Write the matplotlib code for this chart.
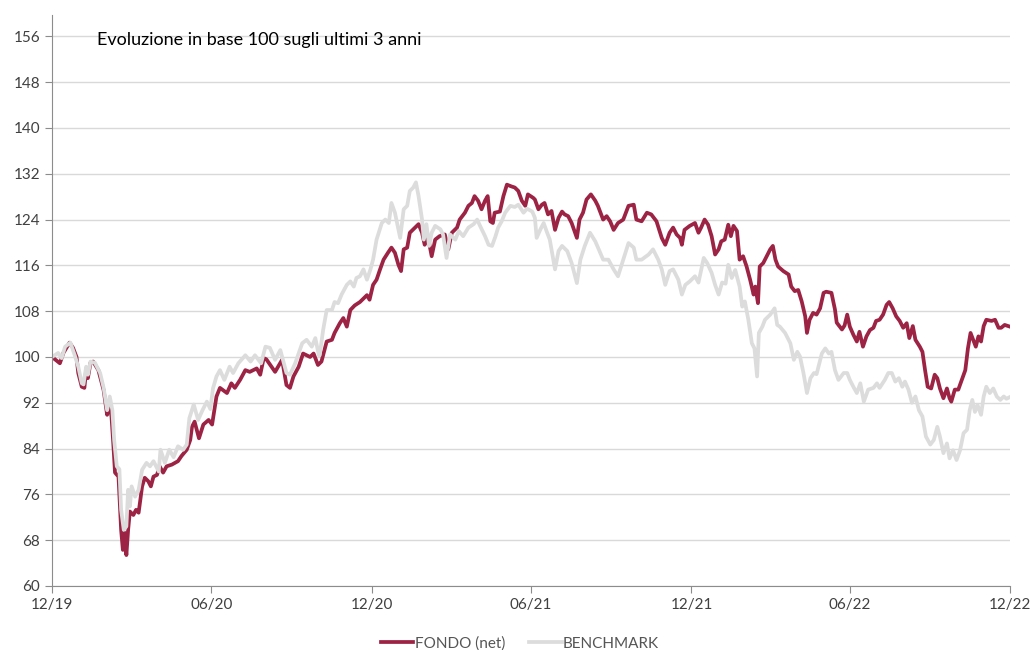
import numpy as np
import pandas as pd
import matplotlib
matplotlib.use('Agg')
import matplotlib.pyplot as plt
import matplotlib.dates as mdates

START = pd.Timestamp('2019-12-31')
END = pd.Timestamp('2022-12-30')

# FONDO (net) - days since 31/12/2019, value (base 100)
fondo_days = [0, 9, 13, 20, 24, 28, 30, 34, 37, 39, 41, 44, 47, 53, 59, 63, 65, 68, 70, 72,
              76, 79, 81, 83, 85, 87, 89, 93, 96, 99, 103, 106, 110, 113, 116, 120, 123, 127,
              131, 137, 144, 148, 154, 158, 160, 163, 168, 173, 179, 183, 188, 192, 200, 205,
              209, 215, 221, 226, 234, 238, 242, 245, 251, 255, 263, 268, 272, 276, 282, 287,
              295, 299, 304, 308, 314, 320, 323, 329, 333, 337, 341, 346, 352, 356, 360, 363,
              367, 371, 375, 379, 384, 388, 392, 396, 399, 402, 406, 409, 415, 419, 423, 426,
              430, 434, 438, 443, 449, 453, 457, 463, 466, 472, 476, 480, 483, 487, 491, 495,
              498, 501, 504, 506, 512, 516, 520, 525, 529, 533, 537, 541, 544, 550, 552, 556,
              560, 563, 567, 571, 575, 579, 583, 586, 590, 594, 600, 603, 607, 611, 616, 621,
              624, 630, 634, 638, 642, 647, 653, 659, 665, 668, 674, 680, 685, 691, 697, 701,
              706, 710, 714, 718, 720, 723, 729, 735, 739, 742, 746, 750, 754, 758, 762, 765,
              769, 773, 776, 779, 783, 786, 790, 794, 798, 802, 804, 807, 809, 813, 817, 821,
              824, 827, 830, 836, 842, 845, 849, 853, 857, 861, 863, 866, 870, 874, 878, 882,
              885, 891, 895, 897, 903, 906, 909, 912, 916, 920, 923, 927, 931, 935, 939, 942,
              946, 950, 954, 957, 961, 965, 969, 973, 977, 980, 984, 987, 992, 995, 998, 1001,
              1005, 1009, 1012, 1015, 1019, 1023, 1026, 1028, 1032, 1036, 1040, 1044, 1047,
              1050, 1053, 1056, 1059, 1062, 1065, 1068, 1074, 1078, 1082, 1085, 1089, 1095]
fondo_vals = [100.0, 98.9, 100.7, 102.5, 101.6, 100.0, 97.2, 94.8, 94.6, 97.7, 96.3, 99.0, 99.2,
              97.7, 94.2, 89.9, 92.2, 89.6, 85.0, 79.8, 79.1, 69.8, 66.3, 69.3, 65.4, 69.8, 73.0,
              72.4, 73.3, 72.8, 77.4, 78.9, 78.3, 77.4, 79.1, 79.4, 80.9, 79.8, 80.9, 81.2, 81.8,
              82.7, 83.8, 85.5, 87.8, 88.7, 85.8, 88.2, 89.0, 88.2, 93.1, 94.6, 93.7, 95.4, 94.6,
              96.0, 97.7, 97.4, 98.0, 96.9, 99.8, 99.6, 98.3, 97.4, 99.5, 95.1, 94.6, 96.6, 98.3,
              100.6, 100.0, 100.6, 98.6, 99.2, 102.7, 103.0, 104.2, 105.9, 106.8, 105.3, 108.2,
              109.0, 109.6, 110.2, 110.8, 110.0, 112.6, 113.5, 115.3, 117.0, 118.2, 119.1, 118.2,
              116.1, 115.0, 118.8, 119.1, 121.7, 122.6, 123.2, 121.7, 119.6, 120.8, 117.6, 120.5,
              121.1, 121.4, 118.8, 121.7, 122.6, 124.0, 125.2, 126.4, 126.9, 128.1, 127.3, 125.8,
              127.3, 128.1, 123.7, 123.4, 125.2, 125.4, 128.1, 130.1, 129.8, 129.6, 129.0, 127.3,
              126.4, 128.4, 127.8, 127.5, 125.8, 126.6, 126.9, 124.9, 125.5, 122.2, 124.3, 125.4,
              124.9, 124.6, 123.4, 120.8, 124.0, 125.2, 127.5, 128.4, 127.3, 126.4, 124.0, 124.6,
              123.7, 122.2, 123.4, 124.0, 126.4, 126.6, 124.0, 123.7, 125.2, 124.9, 123.7, 120.8,
              119.6, 121.7, 122.6, 121.4, 120.8, 119.6, 122.2, 122.9, 123.4, 121.7, 122.6, 124.0,
              123.1, 121.1, 117.9, 118.8, 120.2, 120.5, 123.1, 121.1, 122.9, 122.0, 117.0, 117.6,
              115.8, 113.5, 110.9, 112.3, 109.4, 115.8, 116.4, 117.6, 118.8, 119.4, 117.0, 115.8,
              115.0, 114.4, 112.3, 111.5, 111.7, 109.7, 107.1, 104.2, 106.5, 107.7, 107.4, 108.5,
              111.2, 111.4, 111.2, 108.3, 106.0, 104.8, 105.5, 107.4, 105.3, 103.9, 102.7, 104.4,
              101.8, 103.6, 104.7, 105.1, 106.3, 106.5, 107.4, 109.1, 109.6, 108.5, 107.1, 106.3,
              105.1, 105.9, 103.3, 105.4, 103.0, 101.8, 100.9, 97.7, 94.8, 94.5, 96.9, 96.3, 94.5,
              92.8, 94.5, 92.8, 92.2, 94.3, 94.3, 96.0, 97.7, 101.5, 104.2, 103.0, 101.8, 103.6,
              102.7, 105.4, 106.5, 106.3, 106.5, 105.1, 105.1, 105.6, 105.3]

# BENCHMARK
bench_days = [0, 7, 11, 15, 21, 26, 30, 34, 36, 39, 41, 44, 49, 55, 59, 63, 66, 69, 71, 74, 77,
              79, 82, 85, 87, 89, 91, 95, 99, 103, 108, 112, 116, 122, 124, 129, 134, 139, 144,
              150, 154, 157, 162, 167, 172, 177, 181, 184, 188, 192, 197, 203, 207, 213, 221,
              227, 232, 239, 244, 249, 255, 261, 268, 272, 278, 286, 291, 297, 301, 305, 306,
              310, 314, 320, 323, 327, 331, 337, 341, 345, 348, 352, 356, 360, 364, 367, 371,
              377, 381, 385, 388, 392, 396, 398, 402, 406, 409, 413, 416, 419, 423, 425, 428,
              431, 434, 438, 444, 447, 451, 455, 461, 465, 470, 476, 482, 486, 489, 495, 499,
              503, 507, 510, 514, 518, 524, 529, 533, 539, 543, 549, 552, 554, 558, 562, 566,
              569, 575, 579, 583, 589, 594, 600, 604, 609, 615, 621, 625, 630, 636, 642, 647,
              653, 659, 665, 668, 674, 682, 687, 693, 697, 701, 706, 710, 716, 720, 724, 729,
              735, 739, 745, 749, 754, 758, 762, 766, 770, 773, 777, 781, 786, 789, 792, 796,
              800, 803, 806, 808, 812, 815, 821, 826, 829, 832, 838, 844, 848, 852, 855, 859,
              863, 867, 871, 874, 880, 884, 888, 891, 895, 899, 905, 909, 912, 916, 920, 924,
              928, 933, 939, 943, 946, 952, 956, 960, 964, 968, 972, 975, 979, 983, 987, 991,
              995, 999, 1004, 1008, 1012, 1015, 1019, 1023, 1026, 1030, 1034, 1038, 1042, 1046,
              1049, 1052, 1055, 1058, 1062, 1065, 1068, 1072, 1076, 1080, 1084, 1088, 1091, 1095]
bench_vals = [100.0, 100.7, 99.8, 101.8, 102.5, 100.3, 98.3, 95.4, 95.2, 98.3, 96.9, 99.2, 99.0,
              97.2, 94.6, 90.7, 93.1, 90.7, 85.5, 80.9, 80.4, 73.3, 69.8, 70.4, 76.8, 73.9, 77.4,
              75.6, 76.8, 80.3, 81.5, 80.9, 81.8, 80.0, 83.8, 81.5, 83.8, 82.5, 84.4, 83.8, 84.7,
              89.3, 91.7, 89.0, 90.7, 92.2, 90.9, 94.5, 96.6, 97.7, 96.0, 98.3, 97.2, 98.9, 100.3,
              99.2, 100.3, 98.9, 101.8, 101.6, 99.5, 101.2, 97.2, 96.9, 98.9, 102.4, 103.0, 101.8,
              103.3, 100.3, 100.3, 104.8, 108.2, 108.2, 109.6, 109.4, 110.9, 112.6, 113.2, 112.3,
              113.8, 114.1, 115.3, 113.5, 115.3, 117.0, 120.5, 123.4, 124.0, 123.4, 126.9, 125.2,
              122.3, 120.8, 125.8, 126.4, 129.0, 129.6, 130.5, 128.1, 124.0, 120.5, 123.2, 119.4,
              121.7, 122.9, 122.3, 121.4, 117.3, 121.4, 120.5, 122.0, 121.1, 122.6, 123.2, 124.0,
              123.0, 121.1, 119.6, 119.4, 121.1, 122.6, 123.7, 125.2, 126.4, 126.2, 126.6, 125.2,
              125.9, 125.4, 124.3, 120.8, 122.2, 123.4, 121.7, 120.5, 115.3, 118.5, 119.4, 118.5,
              116.4, 112.9, 117.0, 119.4, 121.7, 120.2, 118.8, 117.0, 117.0, 115.3, 114.1, 117.0,
              119.9, 119.1, 117.0, 117.0, 117.9, 118.8, 117.0, 115.3, 112.6, 115.0, 115.3, 113.5,
              110.9, 112.6, 113.2, 114.1, 113.0, 117.3, 116.4, 114.7, 112.6, 110.9, 113.0, 112.8,
              116.1, 113.8, 115.2, 112.3, 108.8, 109.7, 106.5, 102.4, 101.5, 96.6, 104.2, 105.3,
              106.5, 107.4, 108.5, 105.6, 105.3, 104.2, 102.4, 99.5, 100.9, 100.1, 97.2, 93.7,
              96.3, 97.2, 97.0, 100.6, 101.5, 100.6, 100.9, 97.7, 96.0, 97.2, 97.2, 96.0, 94.8,
              93.7, 95.4, 92.2, 94.3, 94.6, 95.4, 94.6, 96.0, 97.2, 97.2, 95.7, 96.3, 94.8, 95.7,
              94.3, 92.0, 93.1, 90.7, 89.6, 86.1, 84.7, 85.5, 87.8, 86.1, 83.2, 84.9, 82.3, 83.7,
              82.0, 83.7, 86.7, 87.3, 90.7, 92.5, 90.4, 91.6, 89.9, 93.1, 94.8, 93.7, 94.5, 93.1,
              92.5, 93.1, 92.7, 93.0]

y_ticks = [60, 68, 76, 84, 92, 100, 108, 116, 124, 132, 140, 148, 156]
x_ticks = ['2019-12-31', '2020-06-30', '2020-12-31', '2021-06-30',
           '2021-12-31', '2022-06-30', '2022-12-30']

FONDO_COLOR = '#9C2343'
BENCH_COLOR = '#DCDCDC'

plt.rcParams['font.family'] = ['Lato', 'DejaVu Sans']

fondo_dates = START + pd.to_timedelta(fondo_days, unit='D')
bench_dates = START + pd.to_timedelta(bench_days, unit='D')

fig = plt.figure(figsize=(10.3, 6.5), dpi=100)
ax = fig.add_axes([0.0505, 0.0985, 0.93, 0.879])

ax.plot(fondo_dates, fondo_vals, color=FONDO_COLOR, linewidth=2.7, label='FONDO (net)')
ax.plot(bench_dates, bench_vals, color=BENCH_COLOR, linewidth=2.7, label='BENCHMARK')

ax.set_xlim(START, END)
ax.set_ylim(60, 159.8)
ax.set_yticks(y_ticks)
ax.set_xticks(pd.to_datetime(x_ticks))
ax.xaxis.set_major_formatter(mdates.DateFormatter('%m/%y'))

ax.grid(True, axis='y', color='#D9D9D9', linewidth=1)
ax.set_axisbelow(True)
for s in ['top', 'right']:
    ax.spines[s].set_visible(False)
for s in ['left', 'bottom']:
    ax.spines[s].set_color('#8C8C8C')
ax.tick_params(axis='both', colors='#8C8C8C', labelcolor='#404040', labelsize=11, length=5)

ax.text(0.047, 0.955, 'Evoluzione in base 100 sugli ultimi 3 anni', transform=ax.transAxes,
        fontsize=13, color='black', ha='left', va='center')

fig.legend(loc='lower center', bbox_to_anchor=(0.505, -0.022), ncol=2, frameon=False,
           fontsize=11, handlelength=2.1, handletextpad=0.1, columnspacing=1.6,
           labelcolor='#555555')

fig.savefig('out.png', dpi=100)
